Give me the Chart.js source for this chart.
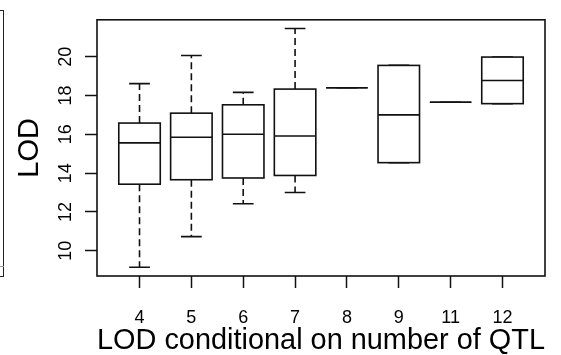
<!DOCTYPE html>
<html>
<head>
<meta charset="utf-8">
<script src="https://cdn.jsdelivr.net/npm/chart.js@4"></script>
<style>
  html, body { margin: 0; padding: 0; background: #fff; }
  #wrap { position: relative; width: 561px; height: 355px; overflow: hidden; }
  #edge { position: absolute; left: -20px; top: 10px; width: 22px; height: 265px; border: 1.5px solid #222; }
  #edgeTick { position: absolute; left: 0; top: 266px; width: 4px; height: 1px; background: #999; }
</style>
</head>
<body>
<div id="wrap">
  <div id="edge"></div>
  <div id="edgeTick"></div>
  <canvas id="myChart"></canvas>
</div>
<script>
// number of QTL
const categories = ['4', '5', '6', '7', '8', '9', '11', '12'];

// box plot statistics (LOD)
const lowerWhisker = [9.15, 10.73, 12.42, 13.00, 18.40, 14.54, 17.65, 17.58];
const lowerQuartile = [13.43, 13.66, 13.75, 13.88, 18.40, 14.54, 17.65, 17.58];
const medians = [15.56, 15.85, 16.00, 15.91, 18.40, 17.00, 17.65, 18.77];
const upperQuartile = [16.58, 17.09, 17.52, 18.33, 18.40, 19.55, 17.65, 19.98];
const upperWhisker = [18.61, 20.06, 18.16, 21.45, 18.40, 19.55, 17.65, 19.98];

const yTicks = [10, 12, 14, 16, 18, 20];

const FONT = '"Liberation Sans", Arial, sans-serif';
const INK = '#111';
const BOX_WIDTH = 0.8;
const CAP_WIDTH = 0.4;

//Boxplot drawing through the chart scales
const boxPlugin = {
  id: 'boxes',
  afterDatasetsDraw(chart) {
    const ctx = chart.ctx;
    const area = chart.chartArea;
    const x = chart.scales.x;
    const y = chart.scales.y;

    ctx.save();
    ctx.strokeStyle = INK;
    ctx.lineWidth = 1.6;

    categories.forEach(function (c, i) {
      const pos = i + 1;
      const xc = x.getPixelForValue(pos);
      const boxHalf = x.getPixelForValue(pos + BOX_WIDTH / 2) - xc;
      const capHalf = x.getPixelForValue(pos + CAP_WIDTH / 2) - xc;

      const yLo = y.getPixelForValue(lowerWhisker[i]);
      const yQ1 = y.getPixelForValue(lowerQuartile[i]);
      const yMed = y.getPixelForValue(medians[i]);
      const yQ3 = y.getPixelForValue(upperQuartile[i]);
      const yHi = y.getPixelForValue(upperWhisker[i]);

      // whiskers
      ctx.setLineDash([7, 4]);
      ctx.beginPath();
      ctx.moveTo(xc, yQ3);
      ctx.lineTo(xc, yHi);
      ctx.moveTo(xc, yQ1);
      ctx.lineTo(xc, yLo);
      ctx.stroke();

      // staples
      ctx.setLineDash([]);
      ctx.beginPath();
      ctx.moveTo(xc - capHalf, yHi);
      ctx.lineTo(xc + capHalf, yHi);
      ctx.moveTo(xc - capHalf, yLo);
      ctx.lineTo(xc + capHalf, yLo);
      ctx.stroke();

      // box
      ctx.fillStyle = '#fff';
      ctx.fillRect(xc - boxHalf, yQ3, boxHalf * 2, yQ1 - yQ3);
      ctx.strokeRect(xc - boxHalf, yQ3, boxHalf * 2, yQ1 - yQ3);

      // median
      ctx.beginPath();
      ctx.moveTo(xc - boxHalf, yMed);
      ctx.lineTo(xc + boxHalf, yMed);
      ctx.stroke();
    });

    // frame
    ctx.lineWidth = 1.6;
    ctx.strokeRect(area.left, area.top, area.right - area.left, area.bottom - area.top);
    ctx.restore();
  }
};

const ctx = document.getElementById('myChart').getContext('2d');

const myChart = new Chart(ctx, {
  type: 'scatter',
  data: {
    datasets: [{
      data: medians.map(function (m, i) { return {x: i + 1, y: m}; }),
      pointRadius: 0,
      showLine: false
    }]
  },
  plugins: [boxPlugin],
  options: {
    responsive: true,
    maintainAspectRatio: false,
    animation: false,
    events: [],
    layout: {
      padding: {top: 10, right: 16, left: 0, bottom: 0}
    },
    plugins: {
      legend: { display: false },
      tooltip: { enabled: false }
    },
    scales: {
      x: {
        type: 'linear',
        min: 0.18,
        max: 8.82,
        afterBuildTicks: function (scale) {
          scale.ticks = categories.map(function (c, i) { return {value: i + 1}; });
        },
        afterFit: function (scale) { scale.height = 79; },
        border: { display: false },
        grid: {
          drawOnChartArea: false,
          drawTicks: true,
          tickLength: 12,
          tickColor: INK,
          tickWidth: 1.5
        },
        ticks: {
          callback: function (value, index) { return categories[index]; },
          autoSkip: false,
          maxRotation: 0,
          padding: 19,
          color: '#000',
          font: { family: FONT, size: 18 }
        },
        title: {
          display: true,
          text: 'LOD conditional on number of QTL',
          color: '#000',
          padding: { top: 0, bottom: -3 },
          font: { family: FONT, size: 29 }
        }
      },
      y: {
        type: 'linear',
        min: 8.7,
        max: 21.9,
        afterBuildTicks: function (scale) {
          scale.ticks = yTicks.map(function (v) { return {value: v}; });
        },
        afterFit: function (scale) { scale.width = 97; },
        border: { display: false },
        grid: {
          drawOnChartArea: false,
          drawTicks: true,
          tickLength: 12,
          tickColor: INK,
          tickWidth: 1.5
        },
        ticks: {
          minRotation: 90,
          maxRotation: 90,
          crossAlign: 'center',
          padding: 9,
          color: '#000',
          font: { family: FONT, size: 18 }
        },
        title: {
          display: true,
          text: 'LOD',
          color: '#000',
          padding: { top: 13, bottom: 0 },
          font: { family: FONT, size: 29 }
        }
      }
    }
  }
});
</script>
</body>
</html>
